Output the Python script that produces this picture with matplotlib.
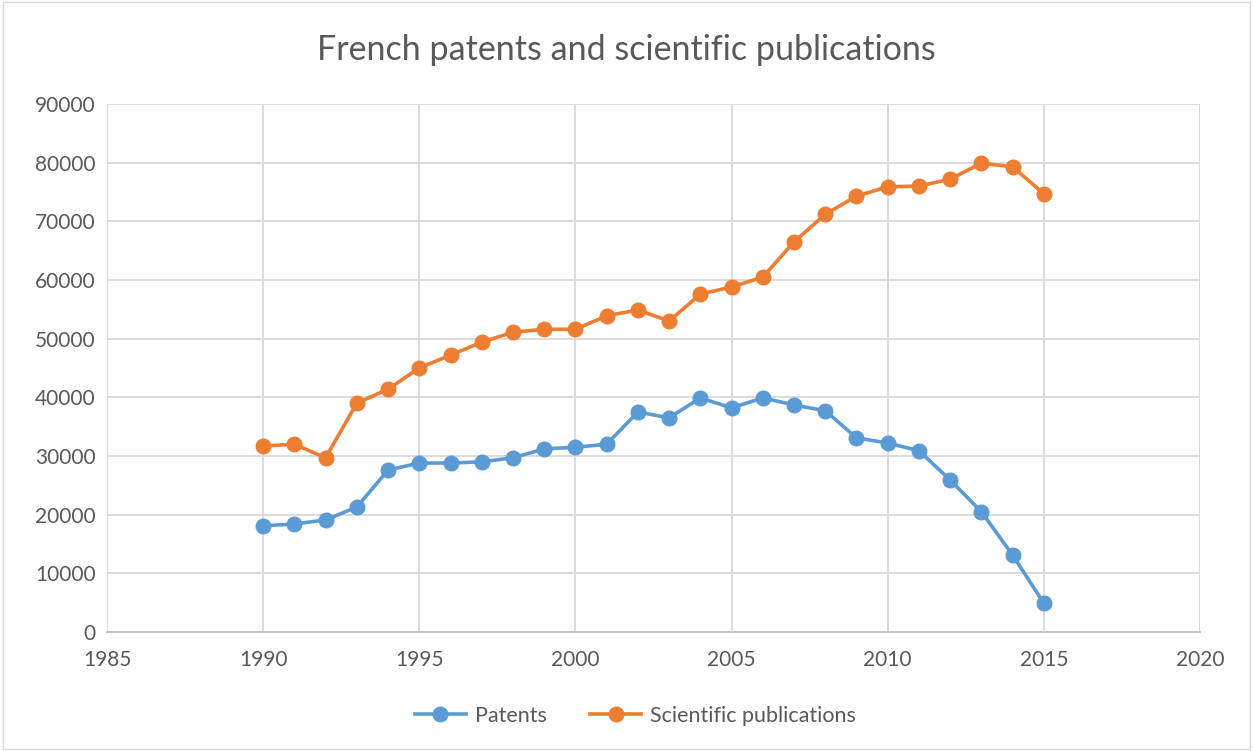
import matplotlib.pyplot as plt
from matplotlib.patches import Rectangle

years = list(range(1990, 2016))
patents = [18100, 18400, 19100, 21300, 27600, 28800, 28800, 29000, 29700, 31200,
           31500, 32000, 37500, 36500, 39900, 38200, 39900, 38700, 37700, 33100,
           32200, 30900, 25900, 20500, 13100, 4900]
publications = [31700, 32000, 29700, 39000, 41400, 45000, 47200, 49400, 51100, 51600,
                51600, 53900, 54900, 53000, 57600, 58800, 60500, 66500, 71200, 74300,
                75900, 76000, 77200, 79900, 79300, 74700]

txt = '#595959'
plt.rcParams['font.family'] = ['Lato', 'DejaVu Sans']

fig = plt.figure(figsize=(12.53, 7.51), dpi=100)
ax = fig.add_axes([0.0854, 0.1585, 0.8723, 0.703])

ax.plot(years, patents, color='#5B9BD5', lw=2.6, marker='o', ms=10.5, label='Patents', zorder=3)
ax.plot(years, publications, color='#ED7D31', lw=2.6, marker='o', ms=10.5,
        label='Scientific publications', zorder=3)

ax.set_xlim(1985, 2020)
ax.set_ylim(0, 90000)
ax.set_xticks(range(1985, 2021, 5))
ax.set_yticks(range(0, 90001, 10000))
ax.grid(True, color='#D9D9D9', lw=1.3)
ax.set_axisbelow(True)
for s in ['top', 'right', 'left']:
    ax.spines[s].set_visible(False)
ax.spines['bottom'].set_color('#BFBFBF')
ax.spines['bottom'].set_linewidth(1.3)
ax.tick_params(length=0, labelsize=15, colors=txt)
ax.tick_params(axis='x', pad=13)
ax.tick_params(axis='y', pad=8)

fig.suptitle('French patents and scientific publications', fontsize=24.5, color=txt, y=0.955)
fig.legend(loc='center', bbox_to_anchor=(0.507, 0.047), ncol=2, frameon=False,
           fontsize=15.5, labelcolor=txt, handlelength=2.4, handletextpad=0.4,
           columnspacing=2.0)

fig.patches.append(Rectangle((0.002, 0.002), 0.996, 0.996, transform=fig.transFigure,
                             fill=False, edgecolor='#D9D9D9', lw=1))

fig.savefig('out.png', dpi=100, facecolor='white')
